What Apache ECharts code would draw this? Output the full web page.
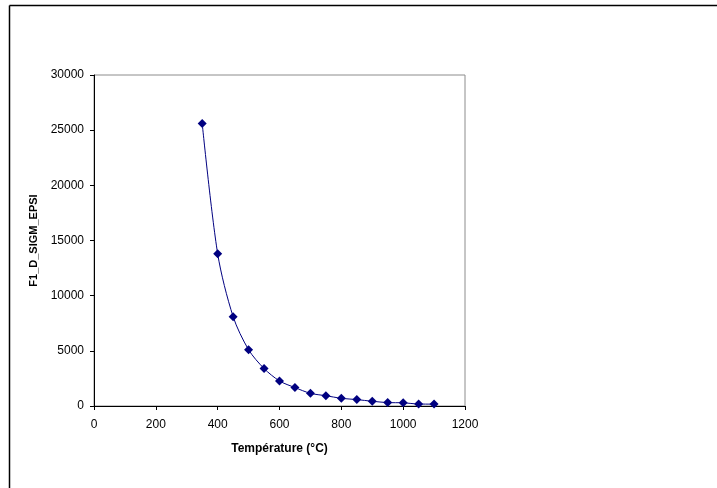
<!DOCTYPE html>
<html>
<head>
<meta charset="utf-8">
<script src="https://cdn.jsdelivr.net/npm/echarts@6/dist/echarts.min.js"></script>
<style>
html,body{margin:0;padding:0;background:#fff;}
#chart{width:717px;height:488px;}
</style>
</head>
<body>
<div id="chart"></div>
<script>
var temperatures = [350, 400, 450, 500, 550, 600, 650, 700, 750, 800, 850, 900, 950, 1000, 1050, 1100];
var values = [25600, 13800, 8100, 5100, 3400, 2270, 1670, 1150, 930, 700, 580, 430, 310, 290, 180, 170];
var xTitle = 'Température (°C)';
var yTitle = 'F1_D_SIGM_EPSI';

var chart = echarts.init(document.getElementById('chart'), null, {renderer: 'canvas'});
var fontFam = '"Liberation Sans", Arial, sans-serif';
function plain(v){ return String(v); }
chart.setOption({
  animation: false,
  backgroundColor: '#fff',
  grid: {left: 94, right: 252, top: 75, bottom: 82, show: true, borderColor: '#8c8c8c', borderWidth: 1, backgroundColor: 'transparent'},
  graphic: [
    {type: 'line', shape: {x1: 9.5, y1: 5.5, x2: 9.5, y2: 488}, style: {stroke: '#000', lineWidth: 1.5}},
    {type: 'line', shape: {x1: 9.5, y1: 5.5, x2: 717, y2: 5.5}, style: {stroke: '#000', lineWidth: 1.5}}
  ],
  xAxis: {
    type: 'value', min: 0, max: 1200, interval: 200,
    name: xTitle, nameLocation: 'middle', nameGap: 37,
    nameTextStyle: {fontFamily: fontFam, fontSize: 12, fontWeight: 'bold', color: '#000'},
    axisLine: {show: true, lineStyle: {color: '#000', width: 1}},
    axisTick: {show: true, inside: false, length: 4, lineStyle: {color: '#000'}},
    axisLabel: {fontFamily: fontFam, fontSize: 12, color: '#000', margin: 13, formatter: plain},
    splitLine: {show: false}
  },
  yAxis: {
    type: 'value', min: 0, max: 30000, interval: 5000,
    name: yTitle, nameLocation: 'middle', nameGap: 53, nameRotate: 90,
    nameTextStyle: {fontFamily: fontFam, fontSize: 11, fontWeight: 'bold', color: '#000'},
    axisLine: {show: true, lineStyle: {color: '#000', width: 1}},
    axisTick: {show: true, inside: false, length: 4, lineStyle: {color: '#000'}},
    axisLabel: {fontFamily: fontFam, fontSize: 12, color: '#000', margin: 10, formatter: plain},
    splitLine: {show: false}
  },
  series: [{
    type: 'line',
    data: temperatures.map(function(t, i){ return [t, values[i]]; }),
    smooth: 0.3,
    symbol: 'diamond',
    symbolSize: 9,
    lineStyle: {color: '#000080', width: 1},
    itemStyle: {color: '#000080'}
  }]
});
</script>
</body>
</html>
